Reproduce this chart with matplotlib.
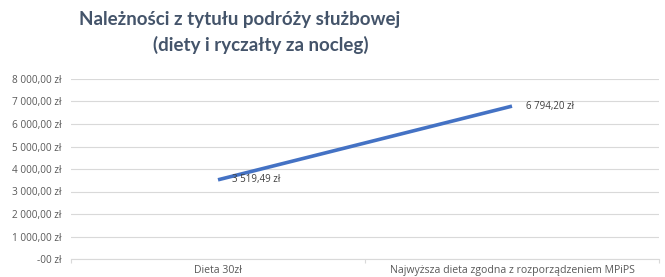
import matplotlib
matplotlib.use("Agg")
import matplotlib.pyplot as plt

# data
categories = ["Dieta 30zł", "Najwyższa dieta zgodna z rozporządzeniem MPiPS"]
values = [3519.49, 6794.20]
value_labels = ["3 519,49 zł", "6 794,20 zł"]
y_ticks = [0, 1000, 2000, 3000, 4000, 5000, 6000, 7000, 8000]
y_tick_labels = ["-00 zł", "1 000,00 zł", "2 000,00 zł", "3 000,00 zł", "4 000,00 zł",
                 "5 000,00 zł", "6 000,00 zł", "7 000,00 zł", "8 000,00 zł"]

plt.rcParams['font.family'] = ['Open Sans', 'DejaVu Sans']
text_col = "#595959"

fig = plt.figure(figsize=(6.65, 2.77), dpi=100)
ax = fig.add_axes([71 / 665, 18 / 277, 588 / 665, 180 / 277])

x = list(range(len(categories)))
ax.plot(x, values, color="#4472C4", linewidth=2.6, solid_capstyle="butt")

for xi, v, lab in zip(x, values, value_labels):
    ax.annotate(lab, (xi, v), xytext=(10, 0), textcoords="offset points",
                ha="left", va="center", fontsize=7, color="#404040")

ax.set_xlim(-0.5, len(categories) - 0.5)
ax.set_ylim(0, 8000)
ax.set_yticks(y_ticks)
ax.set_yticklabels(y_tick_labels)
ax.set_xticks(x)
ax.set_xticklabels(categories)
ax.set_xticks([-0.5, 0.5, 1.5], minor=True)

ax.grid(axis="y", color="#D9D9D9", linewidth=0.8)
ax.set_axisbelow(True)
for s in ["top", "right", "left"]:
    ax.spines[s].set_visible(False)
ax.spines["bottom"].set_color("#D9D9D9")
ax.spines["bottom"].set_linewidth(0.8)

ax.tick_params(axis="y", length=0, labelsize=7.2, labelcolor=text_col, pad=7)
ax.tick_params(axis="x", which="major", length=0, labelsize=7.6, labelcolor=text_col, pad=4)
ax.tick_params(axis="x", which="minor", length=3, color="#D9D9D9", width=0.8)

title_font = ['Lato', 'DejaVu Sans']
fig.text(240 / 665, 1 - 19 / 277, "Należności z tytułu podróży służbowej",
         ha="center", va="center", fontsize=13.5, fontweight="bold", color="#44546A",
         family=title_font)
fig.text(261 / 665, 1 - 45 / 277, "(diety i ryczałty za nocleg)",
         ha="center", va="center", fontsize=13.5, fontweight="bold", color="#44546A",
         family=title_font)

fig.savefig("out.png", dpi=100)
